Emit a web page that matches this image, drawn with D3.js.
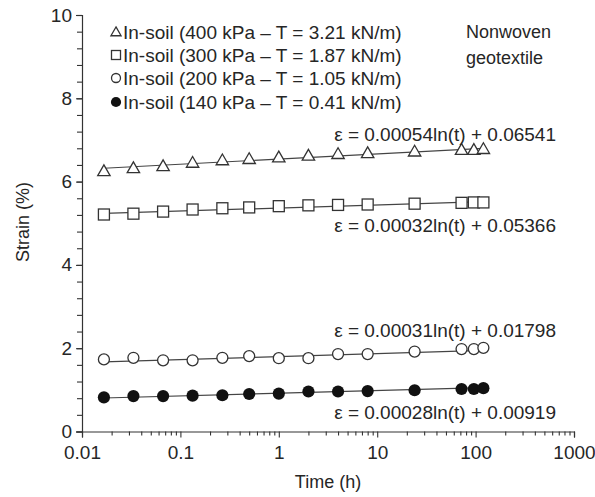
<!DOCTYPE html>
<html lang="en">
<head>
  <meta charset="utf-8">
  <title>Strain vs time</title>
  <script src="https://d3js.org/d3.v7.min.js"></script>
  <style>
    body { margin: 0; background: #fff; }
    text { font-family: "Liberation Sans", Arial, sans-serif; fill: #262626; }
  </style>
</head>
<body>
<script>
// time in hours
const times = [0.0167, 0.0333, 0.0667, 0.133, 0.267, 0.5, 1, 2, 4, 8, 24, 72, 96, 120];
// strain (%) for each test
const strain400 = [6.25, 6.32, 6.37, 6.45, 6.51, 6.54, 6.58, 6.62, 6.66, 6.68, 6.72, 6.76, 6.76, 6.78];
const strain300 = [5.21, 5.23, 5.28, 5.33, 5.36, 5.38, 5.41, 5.43, 5.44, 5.45, 5.47, 5.49, 5.50, 5.50];
const strain200 = [1.73, 1.77, 1.71, 1.71, 1.77, 1.81, 1.76, 1.76, 1.86, 1.86, 1.92, 1.98, 1.98, 2.01];
const strain140 = [0.82, 0.85, 0.85, 0.86, 0.87, 0.90, 0.91, 0.96, 0.96, 0.97, 0.99, 1.02, 1.02, 1.04];
// fit coefficients: eps = a ln(t) + b
const fitA = [0.00054, 0.00032, 0.00031, 0.00028];
const fitB = [0.06541, 0.05366, 0.01798, 0.00919];
const fitLabels = ["ε = 0.00054ln(t) + 0.06541", "ε = 0.00032ln(t) + 0.05366",
                   "ε = 0.00031ln(t) + 0.01798", "ε = 0.00028ln(t) + 0.00919"];
const legendLabels = ["In-soil (400 kPa – T = 3.21 kN/m)", "In-soil (300 kPa – T = 1.87 kN/m)",
                      "In-soil (200 kPa – T = 1.05 kN/m)", "In-soil (140 kPa – T = 0.41 kN/m)"];
const xTicks = [0.01, 0.1, 1, 10, 100, 1000];
const xTickLabels = ["0.01", "0.1", "1", "10", "100", "1000"];
const yTicks = [0, 2, 4, 6, 8, 10];

const W = 595, H = 497;
const svg = d3.select("body").append("svg").attr("width", W).attr("height", H);

const x = d3.scaleLog().domain([0.01, 1000]).range([82, 574]);
const y = d3.scaleLinear().domain([0, 10]).range([431.5, 15]);
const ink = "#333";

// axes
const yAxis = svg.append("g").attr("transform", "translate(82,0)")
  .call(d3.axisLeft(y).tickValues(yTicks).tickFormat(d3.format("d")).tickSize(6).tickPadding(4));
svg.append("g").attr("transform", "translate(82,0)")
  .call(d3.axisLeft(y).tickValues(d3.range(0, 10.01, 0.4)).tickFormat("").tickSize(5))
  .call(g => g.select(".domain").remove());

const xAxis = svg.append("g").attr("transform", "translate(0,431.5)")
  .call(d3.axisBottom(x).tickValues(xTicks).tickFormat((d, i) => xTickLabels[i]).tickSize(6).tickPadding(8));
const minorX = [];
xTicks.slice(0, -1).forEach(d => { for (let k = 2; k < 10; k++) minorX.push(d * k); });
svg.append("g").attr("transform", "translate(0,431.5)")
  .call(d3.axisBottom(x).tickValues(minorX).tickFormat("").tickSize(4))
  .call(g => g.select(".domain").remove());

svg.selectAll(".domain").attr("stroke", ink).attr("stroke-width", 1.2);
svg.selectAll(".tick line").attr("stroke", ink).attr("stroke-width", 1.1);
svg.selectAll(".tick text").style("font-size", "19px").attr("fill", "#262626")
  .style("font-family", '"Liberation Sans", Arial, sans-serif');

// axis titles
svg.append("text").attr("x", 328).attr("y", 488).attr("text-anchor", "middle")
  .style("font-size", "18px").text("Time (h)");
svg.append("text").attr("transform", "translate(29,222) rotate(-90)").attr("text-anchor", "middle")
  .style("font-size", "18px").text("Strain (%)");

// fit lines
const tFit = d3.extent(times);
fitA.forEach((a, i) => {
  const pts = tFit.map(t => [x(t), y(100 * (a * Math.log(t) + fitB[i]))]);
  svg.append("path").attr("d", d3.line()(pts)).attr("fill", "none")
    .attr("stroke", "#444").attr("stroke-width", 1.2);
});

// markers
const tri = d3.symbol().type(d3.symbolTriangle);
function drawMarker(g, kind, cx, cy, s) {
  if (kind === 0) {
    g.append("path").attr("d", tri.size(s * s * 0.55)()).attr("transform", `translate(${cx},${cy + 0.8})`)
      .attr("fill", "#fff").attr("stroke", "#333").attr("stroke-width", 1.3);
  } else if (kind === 1) {
    g.append("rect").attr("x", cx - s / 2).attr("y", cy - s / 2).attr("width", s).attr("height", s)
      .attr("fill", "#fff").attr("stroke", "#333").attr("stroke-width", 1.3);
  } else if (kind === 2) {
    g.append("circle").attr("cx", cx).attr("cy", cy).attr("r", s / 2)
      .attr("fill", "#fff").attr("stroke", "#333").attr("stroke-width", 1.3);
  } else {
    g.append("circle").attr("cx", cx).attr("cy", cy).attr("r", s / 2 + 0.6).attr("fill", "#111");
  }
}
const series = [strain400, strain300, strain200, strain140];
const marks = svg.append("g");
series.forEach((vals, k) => {
  vals.forEach((v, i) => drawMarker(marks, k, x(times[i]), y(v), 11));
});

// fit labels
const fitPos = [[556, 141], [556, 232], [556, 337], [556, 419]];
fitLabels.forEach((s, i) => {
  svg.append("text").attr("x", fitPos[i][0]).attr("y", fitPos[i][1]).attr("text-anchor", "end")
    .style("font-size", "19px").text(s);
});

// legend
const legRows = [32, 55, 78, 102];
const leg = svg.append("g");
legendLabels.forEach((s, i) => {
  drawMarker(leg, i, 116, legRows[i], 9);
  leg.append("text").attr("x", 123).attr("y", legRows[i]).attr("dy", "0.35em")
    .style("font-size", "19px").text(s);
});

svg.append("text").attr("x", 466).attr("y", 32).attr("dy", "0.35em").style("font-size", "18px").text("Nonwoven");
svg.append("text").attr("x", 466).attr("y", 58).attr("dy", "0.35em").style("font-size", "18px").text("geotextile");
</script>
</body>
</html>
